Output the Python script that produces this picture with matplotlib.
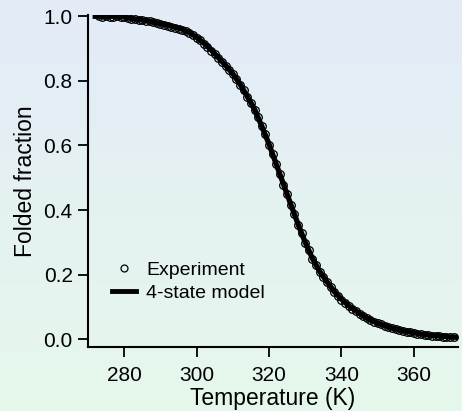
import numpy as np
import matplotlib
matplotlib.use("Agg")
import matplotlib.pyplot as plt
from matplotlib.colors import LinearSegmentedColormap

plt.rcParams['font.family'] = ['Liberation Sans', 'DejaVu Sans']

# experiment (1 K steps)
exp_T = list(range(273, 372))
exp_f = [1.000, 0.999, 1.000, 0.998, 0.999, 1.000, 0.998, 0.997, 0.996, 0.992,
         0.991, 0.990, 0.988, 0.986, 0.985, 0.981, 0.979, 0.976, 0.974, 0.971,
         0.968, 0.964, 0.961, 0.957, 0.953, 0.947, 0.941, 0.933, 0.926, 0.915,
         0.906, 0.894, 0.884, 0.870, 0.859, 0.846, 0.834, 0.820, 0.806, 0.788,
         0.772, 0.750, 0.732, 0.710, 0.688, 0.660, 0.634, 0.603, 0.574, 0.542,
         0.511, 0.479, 0.449, 0.416, 0.388, 0.355, 0.329, 0.298, 0.275, 0.249,
         0.229, 0.208, 0.192, 0.176, 0.161, 0.146, 0.134, 0.122, 0.112, 0.102,
         0.094, 0.086, 0.079, 0.071, 0.065, 0.059, 0.054, 0.049, 0.046, 0.041,
         0.038, 0.034, 0.031, 0.028, 0.026, 0.023, 0.021, 0.019, 0.017, 0.015,
         0.014, 0.012, 0.011, 0.010, 0.009, 0.008, 0.007, 0.006, 0.006]

# 4-state model (2 K steps)
model_T = list(range(272, 374, 2))
model_f = [1.000, 1.000, 1.000, 1.000, 0.998, 0.993, 0.990, 0.987, 0.982, 0.977,
           0.972, 0.966, 0.960, 0.950, 0.935, 0.917, 0.896, 0.872, 0.848, 0.822,
           0.790, 0.752, 0.712, 0.660, 0.604, 0.542, 0.480, 0.418, 0.357, 0.300,
           0.250, 0.210, 0.178, 0.148, 0.124, 0.104, 0.088, 0.072, 0.060, 0.050,
           0.042, 0.035, 0.029, 0.024, 0.020, 0.016, 0.013, 0.011, 0.009, 0.007,
           0.006]

xticks = [280, 300, 320, 340, 360]
yticks = [0.0, 0.2, 0.4, 0.6, 0.8, 1.0]

fig = plt.figure(figsize=(4.62, 4.11), dpi=100)

# gradient background
bg = fig.add_axes([0, 0, 1, 1], zorder=-10)
cmap = LinearSegmentedColormap.from_list('bg', ['#e3ebf8', '#e6f8eb'])
bg.imshow(np.linspace(0, 1, 256).reshape(-1, 1), cmap=cmap, aspect='auto',
          extent=[0, 1, 0, 1])
bg.axis('off')

ax = fig.add_axes([88/462, 1-347/411, (458-88)/462, (347-15)/411])
ax.patch.set_alpha(0)

ax.plot(exp_T, exp_f, 'o', ms=5.5, mfc='none', mec='black', mew=0.9,
        label='Experiment', zorder=2)
ax.plot(model_T, model_f, '-', color='black', lw=3.8, label='4-state model',
        zorder=3)

ax.set_xlim(270, 372.2)
ax.set_ylim(-0.024, 1.004)
ax.set_xticks(xticks)
ax.set_yticks(yticks)
ax.set_yticklabels([f'{v:.1f}' for v in yticks])

for s in ['top', 'right']:
    ax.spines[s].set_visible(False)
for s in ['left', 'bottom']:
    ax.spines[s].set_linewidth(1.5)
ax.tick_params(direction='out', length=7, width=1.3, labelsize=15)
ax.tick_params(axis='x', pad=7)
ax.tick_params(axis='y', pad=4)

ax.set_xlabel('Temperature (K)', fontsize=16.5, labelpad=1)
ax.set_ylabel('Folded fraction', fontsize=16.5, labelpad=5)

leg = ax.legend(loc='upper left', bbox_to_anchor=(0.066, 0.259), frameon=False,
                fontsize=14, handlelength=1.2, handletextpad=0.55,
                labelspacing=0.3, borderpad=0, borderaxespad=0)
leg.legend_handles[0].set_markersize(5)
leg.legend_handles[1].set_linewidth(3.5)

fig.savefig('out.png', dpi=100)
